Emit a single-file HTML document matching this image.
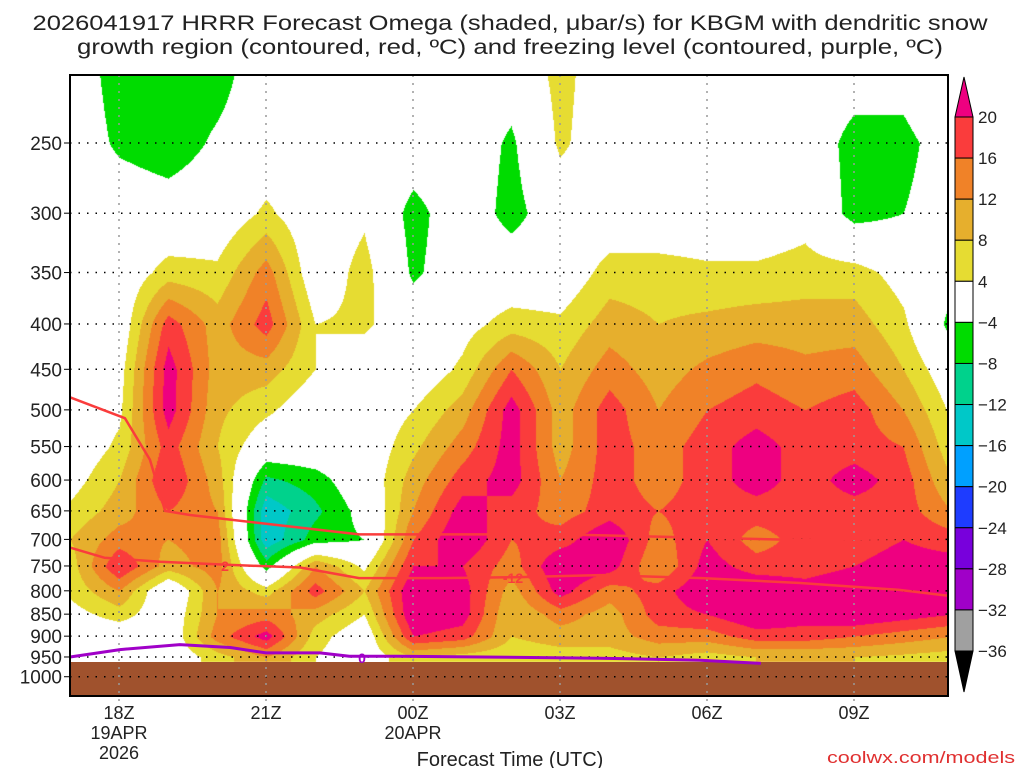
<!DOCTYPE html>
<html><head><meta charset="utf-8">
<style>
html,body{margin:0;padding:0;background:#fff;}
body{width:1024px;height:768px;position:relative;overflow:hidden;font-family:"Liberation Sans","DejaVu Sans",sans-serif;}
#cv{position:absolute;left:0;top:0;}
svg{position:absolute;left:0;top:0;}
</style></head><body>
<canvas id="cv" width="1024" height="768"></canvas>
<svg id="sv" width="1024" height="768"></svg>
<script>
// ---- data ----
const hours = [17,18,19,20,21,22,23,24,25,26,27,28,29,30,31,32,33,34,35];
const levels = [200,250,300,350,400,450,500,550,600,650,700,750,800,850,900,950];
const om17 = [0,0,0,0,0,0,0,0,2,5,8,6,5,2,0,0];
const om18 = [-7,-5,0,0,0,2,3,5,8,10,14,20,12,6,0,0];
const om19 = [-8,-7,-1,6,18,22,22,18,20,16,12,10,-2,0,0,0];
const om20 = [-7,-3,0,5,10,10,9,8,10,12,14,14,12,12,14,6];
const om21 = [0,0,5,14,18,10,5,0,-9,-15,-15,-6,6,14,22,12];
const om22 = [5,0,0,0,4,4,0,0,-6,-9,-6,12,18,10,6,4];
const om23 = [-3,0,3,6,5,0,0,0,0,-2,-4,3,8,4,0,0];
const om24 = [-3,0,-6,-5,0,0,4,7,10,12,16,20,24,24,20,8];
const om25 = [0,0,0,0,2,5,10,14,18,22,24,20,22,22,18,6];
const om26 = [0,-5,-6,0,6,16,22,22,22,18,16,14,10,8,8,5];
const om27 = [6,5,0,0,5,8,10,10,12,14,18,24,22,14,10,6];
const om28 = [0,0,0,6,10,14,18,18,18,18,24,22,14,10,10,6];
const om29 = [0,0,0,6,8,10,12,14,14,16,14,12,18,18,14,8];
const om30 = [0,0,0,5,9,13,16,18,18,18,20,22,24,20,14,6];
const om31 = [0,0,0,5,10,15,18,22,22,18,14,18,24,24,18,8];
const om32 = [0,0,2,6,10,13,16,18,18,18,18,18,22,22,18,8];
const om33 = [0,-6,-6,6,10,14,18,18,22,18,18,20,24,24,16,8];
const om34 = [0,-6,-4,2,5,8,12,16,18,18,20,22,24,22,14,7];
const om35 = [6,0,0,-2,-6,0,3,5,8,12,18,22,22,20,12,6];
const omega = [om17,om18,om19,om20,om21,om22,om23,om24,om25,om26,om27,om28,om29,om30,om31,om32,om33,om34,om35];

const bounds = [-36,-32,-28,-24,-20,-16,-12,-8,-4,4,8,12,16,20];
const colors = ['#000000','#a0a0a0','#a000c8','#7800dc','#1e3cff','#00a0ff','#00c8c8','#00d28c','#00dc00','#ffffff','#e6dc32','#e6af2d','#f08228','#fa3c3c','#ee0080'];

const dgzHrA = [17,18.12,18.63,18.94,19.45,21.29,22.9,24.76,27,31.9,34.9];
const dgzPA  = [484,511,569,650,657,675,691,691,691,701,696];
const dgzHrB = [17,17.7,18.84,20.27,21.7,22.9,24.55,26.2,27.8,29.9,31.9,33.9,34.9];
const dgzPB  = [715,734,742,748,753,774,774,772,768,774,784,798,810];
const frzHr = [17,18.02,19.24,20.27,21,22.1,22.7,23.7,27.8,29.86,31.1];
const frzP  = [950,932,920,927,940,940,948,948,953,958,966];

const pTicks = [250,300,350,400,450,500,550,600,650,700,750,800,850,900,950,1000];
const tHours = [18,21,24,27,30,33];
const tLab1 = ['18Z','21Z','00Z','03Z','06Z','09Z'];
const tLab2 = ['19APR','','20APR','','',''];
const tLab3 = ['2026','','','','',''];
const cbLabels = ['20','16','12','8','4','\u22124','\u22128','\u221212','\u221216','\u221220','\u221224','\u221228','\u221232','\u221236'];

// ---- axes ----
const L=70,R=948,T=75,B=696,GROUND=662;
const X = h => L + (h-17)*49;
const Y = p => 143 + 385*Math.log(p/250);
const H = x => 17 + (x-L)/49;

// ---- shading ----
const cv=document.getElementById('cv');const ctx=cv.getContext('2d');
ctx.fillStyle='#fff';ctx.fillRect(0,0,1024,768);
const rowY=levels.map(Y);
const img=ctx.getImageData(0,0,1024,768);
function hex(c){return [parseInt(c.substr(1,2),16),parseInt(c.substr(3,2),16),parseInt(c.substr(5,2),16)];}
const rgb=colors.map(hex);
for(let y=T;y<GROUND;y++){
  let j=0;while(j<levels.length-2&&y>rowY[j+1])j++;
  let fy=(y-rowY[j])/(rowY[j+1]-rowY[j]);fy=Math.max(0,Math.min(1,fy));
  for(let x=L;x<R;x++){
    let hf=H(x)-17;let i=Math.floor(hf);if(i>=hours.length-1)i=hours.length-2;if(i<0)i=0;
    let fx=hf-i;fx=Math.max(0,Math.min(1,fx));
    const a=omega[i][j],b=omega[i+1][j],c=omega[i][j+1],d=omega[i+1][j+1];
    const v=a*(1-fx)*(1-fy)+b*fx*(1-fy)+c*(1-fx)*fy+d*fx*fy;
    let k=0;while(k<bounds.length&&v>=bounds[k])k++;
    const col=rgb[k];const o=(y*1024+x)*4;
    img.data[o]=col[0];img.data[o+1]=col[1];img.data[o+2]=col[2];img.data[o+3]=255;
  }
}
ctx.putImageData(img,0,0);

// ---- svg ----
const NS='http://www.w3.org/2000/svg';
const sv=document.getElementById('sv');
function el(tag,attrs,parent){const e=document.createElementNS(NS,tag);for(const k in attrs)e.setAttribute(k,attrs[k]);(parent||sv).appendChild(e);return e;}
function txt(s,attrs){const e=el('text',attrs);e.textContent=s;return e;}

const ground=el('rect',{x:L,y:GROUND,width:R-L,height:B-GROUND,fill:'#a0522d'});



pTicks.forEach(p=>{
  const g=el('line',{x1:L,x2:R,y1:Y(p),y2:Y(p),stroke:'#000','stroke-width':1.5,'stroke-dasharray':'1.5 7'});
  
  
  el('line',{x1:L-6,x2:L,y1:Y(p),y2:Y(p),stroke:'#000','stroke-width':1});
  const t=txt(String(p),{x:62,y:Y(p)+7,'text-anchor':'end','font-size':19,fill:'#222'});
  
  
});
tHours.forEach((h,i)=>{
  const g=el('line',{x1:X(h),x2:X(h),y1:T,y2:B+6,stroke:'#999','stroke-width':1.5,'stroke-dasharray':'2 6'});
  
  
  [tLab1[i],tLab2[i],tLab3[i]].forEach((s,k)=>{ if(!s)return;
    const t=txt(s,{x:X(h),y:719+k*20,'text-anchor':'middle','font-size':18,fill:'#222'});
    
    
  });
});

function line(hs,ps,color,w,name){
  const pts=hs.map((h,i)=>X(h).toFixed(1)+','+Y(ps[i]).toFixed(1)).join(' ');
  const e=el('polyline',{points:pts,fill:'none',stroke:color,'stroke-width':w,'stroke-linejoin':'round'});
  
  
}
line(dgzHrA,dgzPA,'#fa3c3c',2.5,'dgz-contour-upper');
line(dgzHrB,dgzPB,'#fa3c3c',2.5,'dgz-contour-lower');
line(frzHr,frzP,'#a000c8',3,'freezing-level-contour');
const l1=txt('2',{x:225,y:571,'text-anchor':'middle','font-size':14,fill:'#fa3c3c','font-weight':'bold'});


const l2=txt('-12',{x:513,y:583,'text-anchor':'middle','font-size':14,fill:'#fa3c3c','font-weight':'bold'});


const l3=txt('0',{x:362,y:663,'text-anchor':'middle','font-size':14,fill:'#a000c8','font-weight':'bold'});



const frame=el('rect',{x:L,y:T,width:R-L,height:B-T,fill:'none',stroke:'#000','stroke-width':2});



// colorbar
const cbX=955,cbW=18,cbTop=117,step=(651-117)/13;
const tri1=el('polygon',{points:`${cbX},${cbTop} ${cbX+cbW},${cbTop} ${cbX+cbW/2},77`,fill:colors[14],stroke:'#000','stroke-width':1});


for(let k=0;k<13;k++){
  const r=el('rect',{x:cbX,y:cbTop+k*step,width:cbW,height:step,fill:colors[13-k],stroke:'#000','stroke-width':1});
  
  
}
const yb=cbTop+13*step;
const tri2=el('polygon',{points:`${cbX},${yb} ${cbX+cbW},${yb} ${cbX+cbW/2},692`,fill:'#000',stroke:'#000','stroke-width':1});


cbLabels.forEach((s,k)=>{
  const t=txt(s,{x:978,y:cbTop+k*step+6,'font-size':17,fill:'#222'});
  
  
});

// titles
const t1=txt('2026041917 HRRR Forecast Omega (shaded, \u03bcbar/s) for KBGM with dendritic snow',{x:510,y:30,'text-anchor':'middle','font-size':21,fill:'#222',textLength:955,lengthAdjust:'spacingAndGlyphs'});


const t2=txt('growth region (contoured, red, \u00baC) and freezing level (contoured, purple, \u00baC)',{x:510,y:54,'text-anchor':'middle','font-size':21,fill:'#222',textLength:866,lengthAdjust:'spacingAndGlyphs'});


const xt=txt('Forecast Time (UTC)',{x:510,y:766,'text-anchor':'middle','font-size':20,fill:'#222'});


const cr=txt('coolwx.com/models',{x:1015,y:763,'text-anchor':'end','font-size':17,fill:'#e03030',textLength:188,lengthAdjust:'spacingAndGlyphs'});


</script>
</body></html>
